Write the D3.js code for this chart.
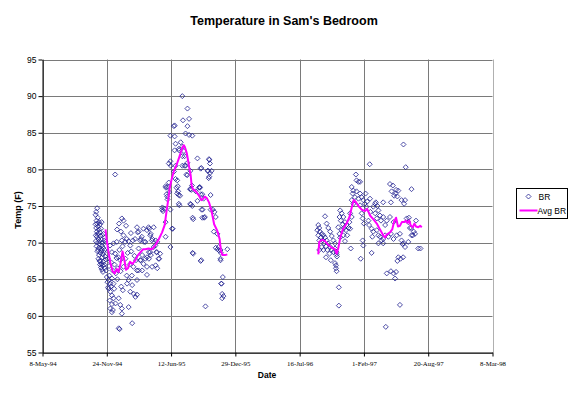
<!DOCTYPE html>
<html><head><meta charset="utf-8">
<script src="https://cdn.jsdelivr.net/npm/d3@7"></script>
<style>body{margin:0;background:#fff}</style>
</head><body>
<svg id="c" width="575" height="393"></svg>
<script>
const chartTitle = "Temperature in Sam's Bedroom";
const xTitle = "Date";
const yTitle = "Temp (F)";
const xTickLabels = ["8-May-94","24-Nov-94","12-Jun-95","29-Dec-95","16-Jul-96","1-Feb-97","20-Aug-97","8-Mar-98"];
const yTicks = [55,60,65,70,75,80,85,90,95];
const seriesNames = ["BR","Avg BR"];
const baseDate = "8-May-94";
// [days after baseDate, temperature °F]
const brPoints = [
[165,72.5],[165,73.8],[166,71.0],[166,70.2],[167,74.2],[167,72.0],[168,69.5],[168,73.0],[169,71.5],[169,70.8],[170,74.7],[170,72.6],[171,68.8],[171,70.0],[172,73.4],[172,71.2],[173,69.0],[173,72.2],[174,70.5],[174,67.8],[175,71.8],[175,69.3],[176,72.8],[176,68.3],[177,70.2],[177,67.5],[178,71.4],[178,69.8],[179,67.0],[179,72.5],[180,68.6],[180,70.9],[181,67.5],[181,69.2],[182,71.9],[182,66.6],[183,68.9],[183,70.4],[184,67.1],[184,72.8],[185,69.6],[185,66.3],[186,68.0],[186,71.0],[187,66.9],[187,70.0],[188,68.4],[188,66.0],[189,69.3],[189,67.4],[190,71.2],[191,68.7],[192,70.3],[192,67.0],[193,69.0],[194,66.5],[195,68.1],[196,70.1],[197,67.7],[198,66.2],
[200,65.3],[202,64.6],[204,63.9],[206,64.9],[206,63.7],[208,65.5],[209,62.1],[211,64.4],[211,63.3],[211,61.0],[213,64.0],[216,65.1],[216,62.8],[216,60.5],[216,61.6],[219,60.8],[221,64.4],[221,62.4],[223,63.7],[226,68.5],[226,79.3],[227,61.7],[231,70.1],[233,65.0],[236,68.0],[237,62.4],[237,58.3],[240,58.2],[242,61.5],[242,67.6],[244,71.5],[245,64.0],[247,61.0],[247,60.3],[247,73.3],[247,70.3],[250,63.5],[252,66.7],[252,71.0],[252,73.0],
[203,67.8],[207,66.8],[210,69.6],[214,67.3],[216,68.7],[218,66.2],[221,69.9],[224,67.0],[228,65.8],[230,67.9],[234,66.5],[239,69.0],[243,66.1],[232,71.8],[238,72.6],[249,69.5],
[257,70.1],[262,70.5],[262,65.5],[263,64.4],[268,70.2],[268,64.9],[268,61.2],[273,69.6],[273,63.3],[278,65.5],[279,64.2],[279,59.0],[281,70.3],[283,66.7],[284,63.0],[288,70.5],[289,62.6],[294,72.1],[294,66.2],[294,64.9],[294,62.9],[296,71.4],[299,71.5],[299,69.2],[299,66.2],
[258,67.8],[265,68.6],[271,67.0],[276,68.8],[286,68.2],[291,67.6],[260,72.3],[275,71.3],
[304,70.3],[304,67.6],[306,70.5],[306,67.6],[309,70.8],[310,68.3],[310,66.2],[314,71.9],[314,67.1],[316,70.1],[320,70.1],[320,67.8],[325,71.7],[325,68.0],[325,66.7],[325,65.6],[330,72.1],[332,71.9],[331,68.7],[331,67.8],[335,71.0],[335,68.7],[337,71.2],[337,68.3],[340,70.3],[342,70.5],[341,66.7],[346,69.4],[346,72.1],[351,69.6],[352,70.3],[352,66.9],[354,68.7],[356,68.7],[357,70.1],[357,66.5],[361,67.8],[363,67.8],[366,68.5],
[372,74.5],[373,74.8],[375,74.3],[379,74.6],[383,72.8],[383,77.7],[384,77.5],[383,70.8],[386,76.6],[388,76.3],[389,75.9],[390,77.6],[393,78.2],[393,80.8],[394,76.9],[398,84.6],[398,81.1],[398,74.5],[398,69.4],[399,80.5],[403,71.9],[405,71.9],[409,79.7],[409,85.9],[411,86.0],[411,84.5],[411,82.6],[414,83.5],[414,80.5],[414,78.7],[417,77.5],[419,78.5],[419,76.7],[421,77.7],[422,77.0],[424,76.5],[424,75.3],[424,82.8],[425,82.6],[426,75.1],[428,76.4],
[430,83.7],[435,90.0],[435,83.1],[435,80.5],[435,81.8],[437,86.7],[440,82.5],[442,80.5],[442,81.8],[445,84.9],[445,80.5],[448,79.3],[450,79.2],[451,88.3],[451,85.9],[451,80.9],[456,86.9],[456,84.7],[459,77.3],[460,79.8],[460,75.3],[461,77.3],[461,75.2],[463,77.2],[465,77.8],[466,84.6],[466,75.0],[467,73.4],[467,68.6],[469,73.2],[469,68.5],[477,77.0],
[482,81.5],[482,75.7],[487,77.5],[489,77.6],[490,77.5],[492,80.1],[492,76.6],[492,67.5],[494,67.6],[494,80.2],[495,74.5],[497,76.6],[497,73.4],[498,74.5],[501,76.0],[503,73.4],[505,73.5],[507,61.3],[514,79.8],[515,79.8],[517,78.8],[518,81.4],[519,79.0],[519,81.3],[521,80.8],[521,79.5],[523,74.5],[523,76.5],[526,79.8],[530,74.5],[533,71.5],[535,74.2],[539,73.5],[539,69.3],[544,71.2],[544,69.1],[548,69.4],[550,68.9],[554,69.0],[554,67.8],[554,67.6],[555,68.6],[556,64.4],[557,64.4],[559,63.0],[559,62.4],[561,65.3],[563,62.7],[575,69.1],
[855,71.7],[858,72.4],[858,71.0],[861,72.0],[861,70.3],[861,69.0],[863,71.5],[866,70.7],[869,71.2],[869,69.4],[872,70.3],[874,71.0],[874,69.0],[876,69.9],[879,70.7],[879,73.6],[882,69.5],[882,68.0],[884,70.3],[884,72.6],[886,69.0],[889,69.9],[889,72.0],[893,68.5],[895,69.4],[895,71.5],[897,67.6],[900,69.0],[900,70.9],[905,68.7],[905,70.3],[910,69.2],[910,69.9],[910,67.2],[913,66.9],[913,66.5],[915,68.7],[915,68.4],[916,68.1],[915,66.1],[920,72.1],[922,61.4],[922,63.9],
[924,73.5],[924,71.2],[926,74.4],[926,70.7],[928,73.0],[931,74.0],[931,71.7],[934,72.5],[936,73.5],[936,71.0],[938,72.0],[941,72.8],[941,70.2],[944,71.7],[946,72.4],[948,71.0],[952,72.0],[955,72.8],[957,71.9],[957,74.0],[959,69.2],[962,73.5],[962,77.6],[962,75.8],[965,76.7],[967,77.1],[967,75.3],[972,76.2],[975,79.3],[977,78.5],[977,77.0],[983,78.3],[983,76.0],[988,78.3],[988,76.7],[988,75.1],[990,67.8],[993,76.2],[993,74.0],[996,73.3],[996,70.3],[998,75.8],[998,69.6],[1000,72.6],[1003,75.3],
[1005,76.7],[1008,74.9],[1010,75.6],[1014,73.0],[1016,72.4],[1018,80.7],[1019,76.0],[1020,74.2],[1024,71.9],[1024,68.6],[1026,70.8],[1029,71.5],[1029,74.9],[1035,75.3],[1035,74.0],[1037,75.5],[1040,71.7],[1040,73.3],[1042,75.0],[1045,74.4],[1045,71.0],[1045,69.9],[1050,73.7],[1050,70.8],[1053,73.0],[1055,70.3],[1060,75.5],[1060,73.5],[1060,70.5],[1060,69.9],[1066,72.4],[1066,71.0],
[1068,58.5],[1071,65.8],[1071,73.0],[1076,70.8],[1081,73.5],[1081,78.0],[1084,75.5],[1084,71.2],[1084,66.1],[1086,77.0],[1090,77.8],[1092,72.8],[1092,70.5],[1092,65.8],[1094,76.4],[1097,65.1],[1098,76.7],[1100,77.2],[1100,66.0],[1102,71.0],[1104,67.5],[1104,76.3],[1107,77.1],[1107,68.0],[1112,71.2],[1112,61.5],[1114,67.8],[1117,75.8],[1117,70.3],[1120,69.8],[1122,68.0],[1123,83.4],[1123,69.9],[1125,75.3],[1128,75.8],[1128,69.4],[1130,80.3],[1133,73.3],[1138,72.8],[1138,70.1],[1140,73.4],[1143,72.0],[1147,72.0],[1148,77.3],[1148,71.0],[1152,71.0],[1155,71.5],[1159,71.2],[1162,73.0],[1169,69.2],[1176,69.2]
];
const avgPoints = [
[196,71.8],[200,70.3],[205,68.8],[211,67.3],[218,66.1],[225,65.8],[231,66.4],[237,66.0],[243,67.2],[249,68.8],[254,67.8],[260,66.3],[266,66.5],[272,67.4],[280,67.1],[289,67.6],[297,68.3],[305,68.7],[313,69.1],[320,69.1],[330,69.2],[341,69.1],[352,69.7],[362,70.5],[372,71.4],[380,72.4],[386,74.3],[391,75.8],[396,77.5],[401,78.5],[409,79.8],[417,80.6],[425,81.6],[431,82.4],[435,83.0],[440,83.3],[444,82.9],[449,82.2],[453,81.2],[457,80.1],[461,79.2],[464,77.8],[468,77.3],[477,77.0],[487,76.4],[494,75.8],[500,76.0],[505,76.3],[511,76.1],[518,75.5],[526,74.3],[534,72.5],[544,71.6],[551,70.5],[555,68.9],[560,68.3],[568,68.3],[575,68.4],
[858,68.4],[861,70.1],[870,70.4],[879,70.2],[889,69.7],[900,69.3],[910,69.1],[915,68.5],[920,69.2],[926,70.6],[934,71.8],[946,72.6],[955,73.5],[962,74.8],[968,75.8],[974,75.6],[983,75.0],[993,74.5],[1003,74.3],[1010,74.6],[1019,73.7],[1029,73.2],[1040,72.6],[1050,71.8],[1060,71.0],[1066,70.7],[1071,71.1],[1081,71.4],[1088,71.8],[1094,72.9],[1100,73.4],[1106,72.2],[1112,72.3],[1118,72.8],[1125,72.8],[1131,73.0],[1136,72.7],[1141,73.0],[1146,72.3],[1152,72.1],[1157,72.6],[1162,72.2],[1169,72.1],[1175,72.3],[1180,72.1]
];

const svg = d3.select("#c");
const parse = d3.utcParse("%e-%b-%y");
const base = parse(baseDate);
const toDate = d => d3.utcDay.offset(base, d);
const tickDates = xTickLabels.map(parse);
const x = d3.scaleUtc().domain([tickDates[0], tickDates[tickDates.length-1]]).range([42.5, 492.5]);
const y = d3.scaleLinear().domain([55, 95]).range([352.5, 59.5]);

// gridlines
const grid = svg.append("g").attr("stroke", "#7a7a7a").attr("stroke-width", 1);
grid.selectAll("line.h").data(yTicks).join("line")
  .attr("x1", x.range()[0]).attr("x2", x.range()[1])
  .attr("y1", d => Math.round(y(d)) + 0.5).attr("y2", d => Math.round(y(d)) + 0.5);
grid.selectAll("line.v").data(tickDates).join("line")
  .attr("x1", d => Math.round(x(d)) + 0.5).attr("x2", d => Math.round(x(d)) + 0.5)
  .attr("y1", y(95)).attr("y2", y(55))
  .attr("stroke", (d, i) => i === tickDates.length - 1 ? "#b0b0b0" : null);

// axes
const yAxis = svg.append("g").attr("transform", `translate(${x.range()[0]},0)`)
  .call(d3.axisLeft(y).tickValues(yTicks).tickSize(4).tickSizeOuter(0));
yAxis.select(".domain").attr("stroke", "#000");
yAxis.selectAll("text").attr("font-family", "Arial, Liberation Sans, sans-serif").attr("font-size", "8.5px").attr("fill", "#000").attr("x", -6);
const xAxis = svg.append("g").attr("transform", `translate(0,${y(55)})`)
  .call(d3.axisBottom(x).tickValues(tickDates).tickFormat((d, i) => xTickLabels[i]).tickSize(4).tickSizeOuter(0));
xAxis.select(".domain").attr("stroke", "#000");
xAxis.selectAll("text").attr("font-family", "Times New Roman, Liberation Serif, serif").attr("font-size", "6.8px").attr("fill", "#000").attr("dy", "0.9em");

// scatter markers
const diamond = "M0,-2.5L2.5,0L0,2.5L-2.5,0Z";
svg.append("g").selectAll("path").data(brPoints).join("path")
  .attr("d", diamond)
  .attr("transform", d => `translate(${x(toDate(d[0]))},${y(d[1])})`)
  .attr("fill", "none").attr("stroke", "#1f1f8f").attr("stroke-width", 0.8);

// average line split at gaps
const segs = [];
avgPoints.forEach((p, i) => {
  if (i === 0 || p[0] - avgPoints[i - 1][0] > 60) segs.push([]);
  segs[segs.length - 1].push(p);
});
const line = d3.line().x(d => x(toDate(d[0]))).y(d => y(d[1]));
svg.append("g").selectAll("path").data(segs).join("path")
  .attr("d", line).attr("fill", "none").attr("stroke", "#ff00ff").attr("stroke-width", 2).attr("stroke-linejoin", "round");

// titles
svg.append("text").attr("x", 284).attr("y", 25).attr("text-anchor", "middle")
  .attr("font-family", "Arial, Liberation Sans, sans-serif").attr("font-weight", "bold").attr("font-size", "12.5px").text(chartTitle);
svg.append("text").attr("x", 267).attr("y", 378).attr("text-anchor", "middle")
  .attr("font-family", "Arial, Liberation Sans, sans-serif").attr("font-weight", "bold").attr("font-size", "8.5px").text(xTitle);
svg.append("text").attr("transform", "translate(21,210) rotate(-90)").attr("text-anchor", "middle")
  .attr("font-family", "Arial, Liberation Sans, sans-serif").attr("font-weight", "bold").attr("font-size", "9px").text(yTitle);

// legend
const lg = svg.append("g").attr("transform", "translate(516.5,188.5)");
lg.append("rect").attr("width", 51).attr("height", 30).attr("fill", "#fff").attr("stroke", "#000").attr("stroke-width", 1);
lg.append("path").attr("d", diamond).attr("transform", "translate(12,8)").attr("fill", "none").attr("stroke", "#1f1f8f").attr("stroke-width", 0.8);
lg.append("line").attr("x1", 3).attr("x2", 21).attr("y1", 22).attr("y2", 22).attr("stroke", "#ff00ff").attr("stroke-width", 2);
lg.selectAll("text.l").data(seriesNames).join("text")
  .attr("x", (d, i) => i === 0 ? 22 : 21).attr("y", (d, i) => 11 + i * 14)
  .attr("font-family", "Arial, Liberation Sans, sans-serif").attr("font-size", "8.5px").text(d => d);
</script>
</body></html>
